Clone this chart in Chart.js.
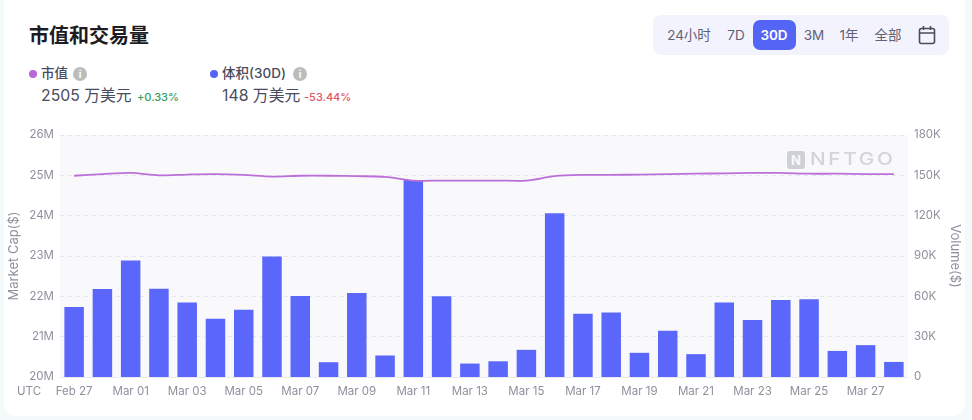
<!DOCTYPE html>
<html>
<head>
<meta charset="utf-8">
<script src="https://cdn.jsdelivr.net/npm/chart.js@4"></script>
<style>
  html, body { margin: 0; padding: 0; width: 972px; height: 420px; overflow: hidden; background: #f4f9f9; }
  body { font-family: Inter, "Noto Sans CJK SC", sans-serif; position: relative; }
  .abs { position: absolute; white-space: nowrap; }
  #card { left: 4px; top: -10px; width: 961px; height: 426px; background: #fff; border-radius: 12px; }
  #title { left: 29px; top: 21px; font: 700 20px/28px "Noto Sans CJK SC", sans-serif; color: #1c1c22; }
  .dot { width: 8px; height: 8px; border-radius: 50%; }
  .lbl { font-size: 13.5px; line-height: 18px; font-weight: 500; color: #4a4c5e; }
  .val { font-size: 15.8px; line-height: 22px; font-weight: 400; color: #4a4c5e; }
  .chg { font-size: 11px; line-height: 16px; font-weight: 500; }
  .info { width: 14px; height: 14px; border-radius: 50%; background: #bcbcbc; color: #fff; font-size: 10px; line-height: 14px; text-align: center; font-weight: 700; }
  #range { left: 653px; top: 15px; width: 296px; height: 40px; background: #f3f3fd; border-radius: 8px; }
  #active { left: 753px; top: 20px; width: 43px; height: 30px; background: #5464f4; border-radius: 7px; }
  .btn { top: 24px; font-size: 13.5px; line-height: 22px; color: #5f6174; transform: translateX(-50%); }
  #chart { position: absolute; left: 0; top: 120px; }
  #utc { left: 17px; top: 382px; font-size: 11.5px; line-height: 18px; color: #8f909c; }
  #mark { left: 810px; top: 149px; font-size: 17px; line-height: 20px; font-weight: 500; letter-spacing: 2.2px; color: #d3d4da; transform: scaleX(1.22); transform-origin: left center; }
  #markIcon { left: 787px; top: 151px; width: 18px; height: 18px; border-radius: 3px; background: #cfd0d5; color: #f8f8fb; font-size: 13px; line-height: 18px; text-align: center; font-weight: 700; }
</style>
</head>
<body>
<div class="abs" id="card"></div>
<div class="abs" id="title">市值和交易量</div>

<div class="abs dot" style="left:29px;top:70px;background:#b868d8"></div>
<div class="abs lbl" style="left:41px;top:64px">市值</div>
<div class="abs info" style="left:73px;top:67px">i</div>
<div class="abs val" style="left:41px;top:85px">2505 万美元</div>
<div class="abs chg" style="left:137px;top:89px;color:#2f9e62">+0.33%</div>

<div class="abs dot" style="left:210px;top:70px;background:#5464f4"></div>
<div class="abs lbl" style="left:222px;top:64px">体积(30D)</div>
<div class="abs info" style="left:293px;top:67px">i</div>
<div class="abs val" style="left:222px;top:85px">148 万美元</div>
<div class="abs chg" style="left:304px;top:89px;color:#e0565f">-53.44%</div>

<div class="abs" id="range"></div>
<div class="abs" id="active"></div>
<div class="abs btn" style="left:689px">24小时</div>
<div class="abs btn" style="left:736px">7D</div>
<div class="abs btn" style="left:774px;color:#fff;font-weight:600">30D</div>
<div class="abs btn" style="left:814px">3M</div>
<div class="abs btn" style="left:849px">1年</div>
<div class="abs btn" style="left:888px">全部</div>
<svg class="abs" style="left:918px;top:25px" width="18" height="20" viewBox="0 0 18 20" fill="none" stroke="#4a4c5e" stroke-width="1.6">
  <rect x="1.5" y="3.5" width="15" height="15" rx="2"/><path d="M1.5 8h15M5.5 1v4M12.5 1v4"/>
</svg>

<canvas id="chart" width="972" height="290"></canvas>
<div class="abs" id="utc">UTC</div>
<div class="abs" id="markIcon">N</div>
<div class="abs" id="mark">NFTGO</div>

<script>
const dates = ["Feb 27","Feb 28","Mar 01","Mar 02","Mar 03","Mar 04","Mar 05","Mar 06","Mar 07","Mar 08",
  "Mar 09","Mar 10","Mar 11","Mar 12","Mar 13","Mar 14","Mar 15","Mar 16","Mar 17","Mar 18",
  "Mar 19","Mar 20","Mar 21","Mar 22","Mar 23","Mar 24","Mar 25","Mar 26","Mar 27","Mar 28"];

const marketCap = [24990000,25030000,25060000,25000000,25020000,25030000,25010000,24970000,24990000,24990000,
  24980000,24960000,24870000,24870000,24870000,24870000,24870000,24980000,25010000,25010000,
  25020000,25030000,25040000,25050000,25060000,25060000,25040000,25040000,25030000,25030000];

const volume = [52000,65500,86700,65700,55500,43300,50000,89600,60300,11000,
  62500,16000,146500,60000,10000,11700,20200,121800,47000,48000,
  18000,34400,17000,55500,42400,57300,57800,19400,23700,11200];

const tickColor = "#8f909c";
const tickFont = { family: "Inter, sans-serif", size: 11.5 };
const titleFont = { family: "Inter, sans-serif", size: 13 };

// fondo gris claro detras de las barras
const plotBackground = {
  id: "plotBackground",
  beforeDraw(chart) {
    const a = chart.chartArea;
    chart.ctx.fillStyle = "#f9f9fb";
    chart.ctx.fillRect(a.left, a.top, a.width, a.height);
  }
};

new Chart(document.getElementById("chart"), {
  data: {
    labels: dates,
    datasets: [
      { type: "line", data: marketCap, yAxisID: "cap", borderColor: "#bb6fd9", borderWidth: 1.8,
        pointRadius: 0, tension: 0.3, order: 1 },
      { type: "bar", data: volume, yAxisID: "vol", backgroundColor: "#5b67fb",
        barPercentage: 0.69, categoryPercentage: 1, order: 2 }
    ]
  },
  plugins: [plotBackground],
  options: {
    responsive: false,
    animation: false,
    layout: { padding: { top: 15, left: 0, right: 0, bottom: 0 } },
    plugins: { legend: { display: false }, tooltip: { enabled: false } },
    scales: {
      x: {
        afterFit: s => { s.height = 33; },
        grid: { display: false },
        border: { color: "#ebebef" },
        ticks: {
          autoSkip: false, maxRotation: 0, color: tickColor, font: tickFont, padding: 0,
          callback(v, i) { return i % 2 ? "" : dates[i]; }
        }
      },
      cap: {
        position: "left", min: 20000000, max: 26000000,
        afterFit: s => { s.width = 60; },
        grid: { color: "#e6e7ec", tickLength: 0, drawTicks: false },
        border: { display: false, dash: [4, 4] },
        title: { display: true, text: "Market Cap($)", color: tickColor, font: titleFont, padding: { top: 6, bottom: 0 } },
        ticks: { stepSize: 1000000, color: tickColor, font: tickFont, padding: 6, callback: v => v / 1000000 + "M" }
      },
      vol: {
        position: "right", min: 0, max: 180000,
        afterFit: s => { s.width = 64; },
        grid: { display: false, drawTicks: false },
        border: { display: false },
        title: { display: true, text: "Volume($)", color: tickColor, font: titleFont, padding: { top: 9, bottom: 4 } },
        ticks: { stepSize: 30000, color: tickColor, font: tickFont, padding: 6, callback: v => v === 0 ? "0" : v / 1000 + "K" }
      }
    }
  }
});
</script>
</body>
</html>
